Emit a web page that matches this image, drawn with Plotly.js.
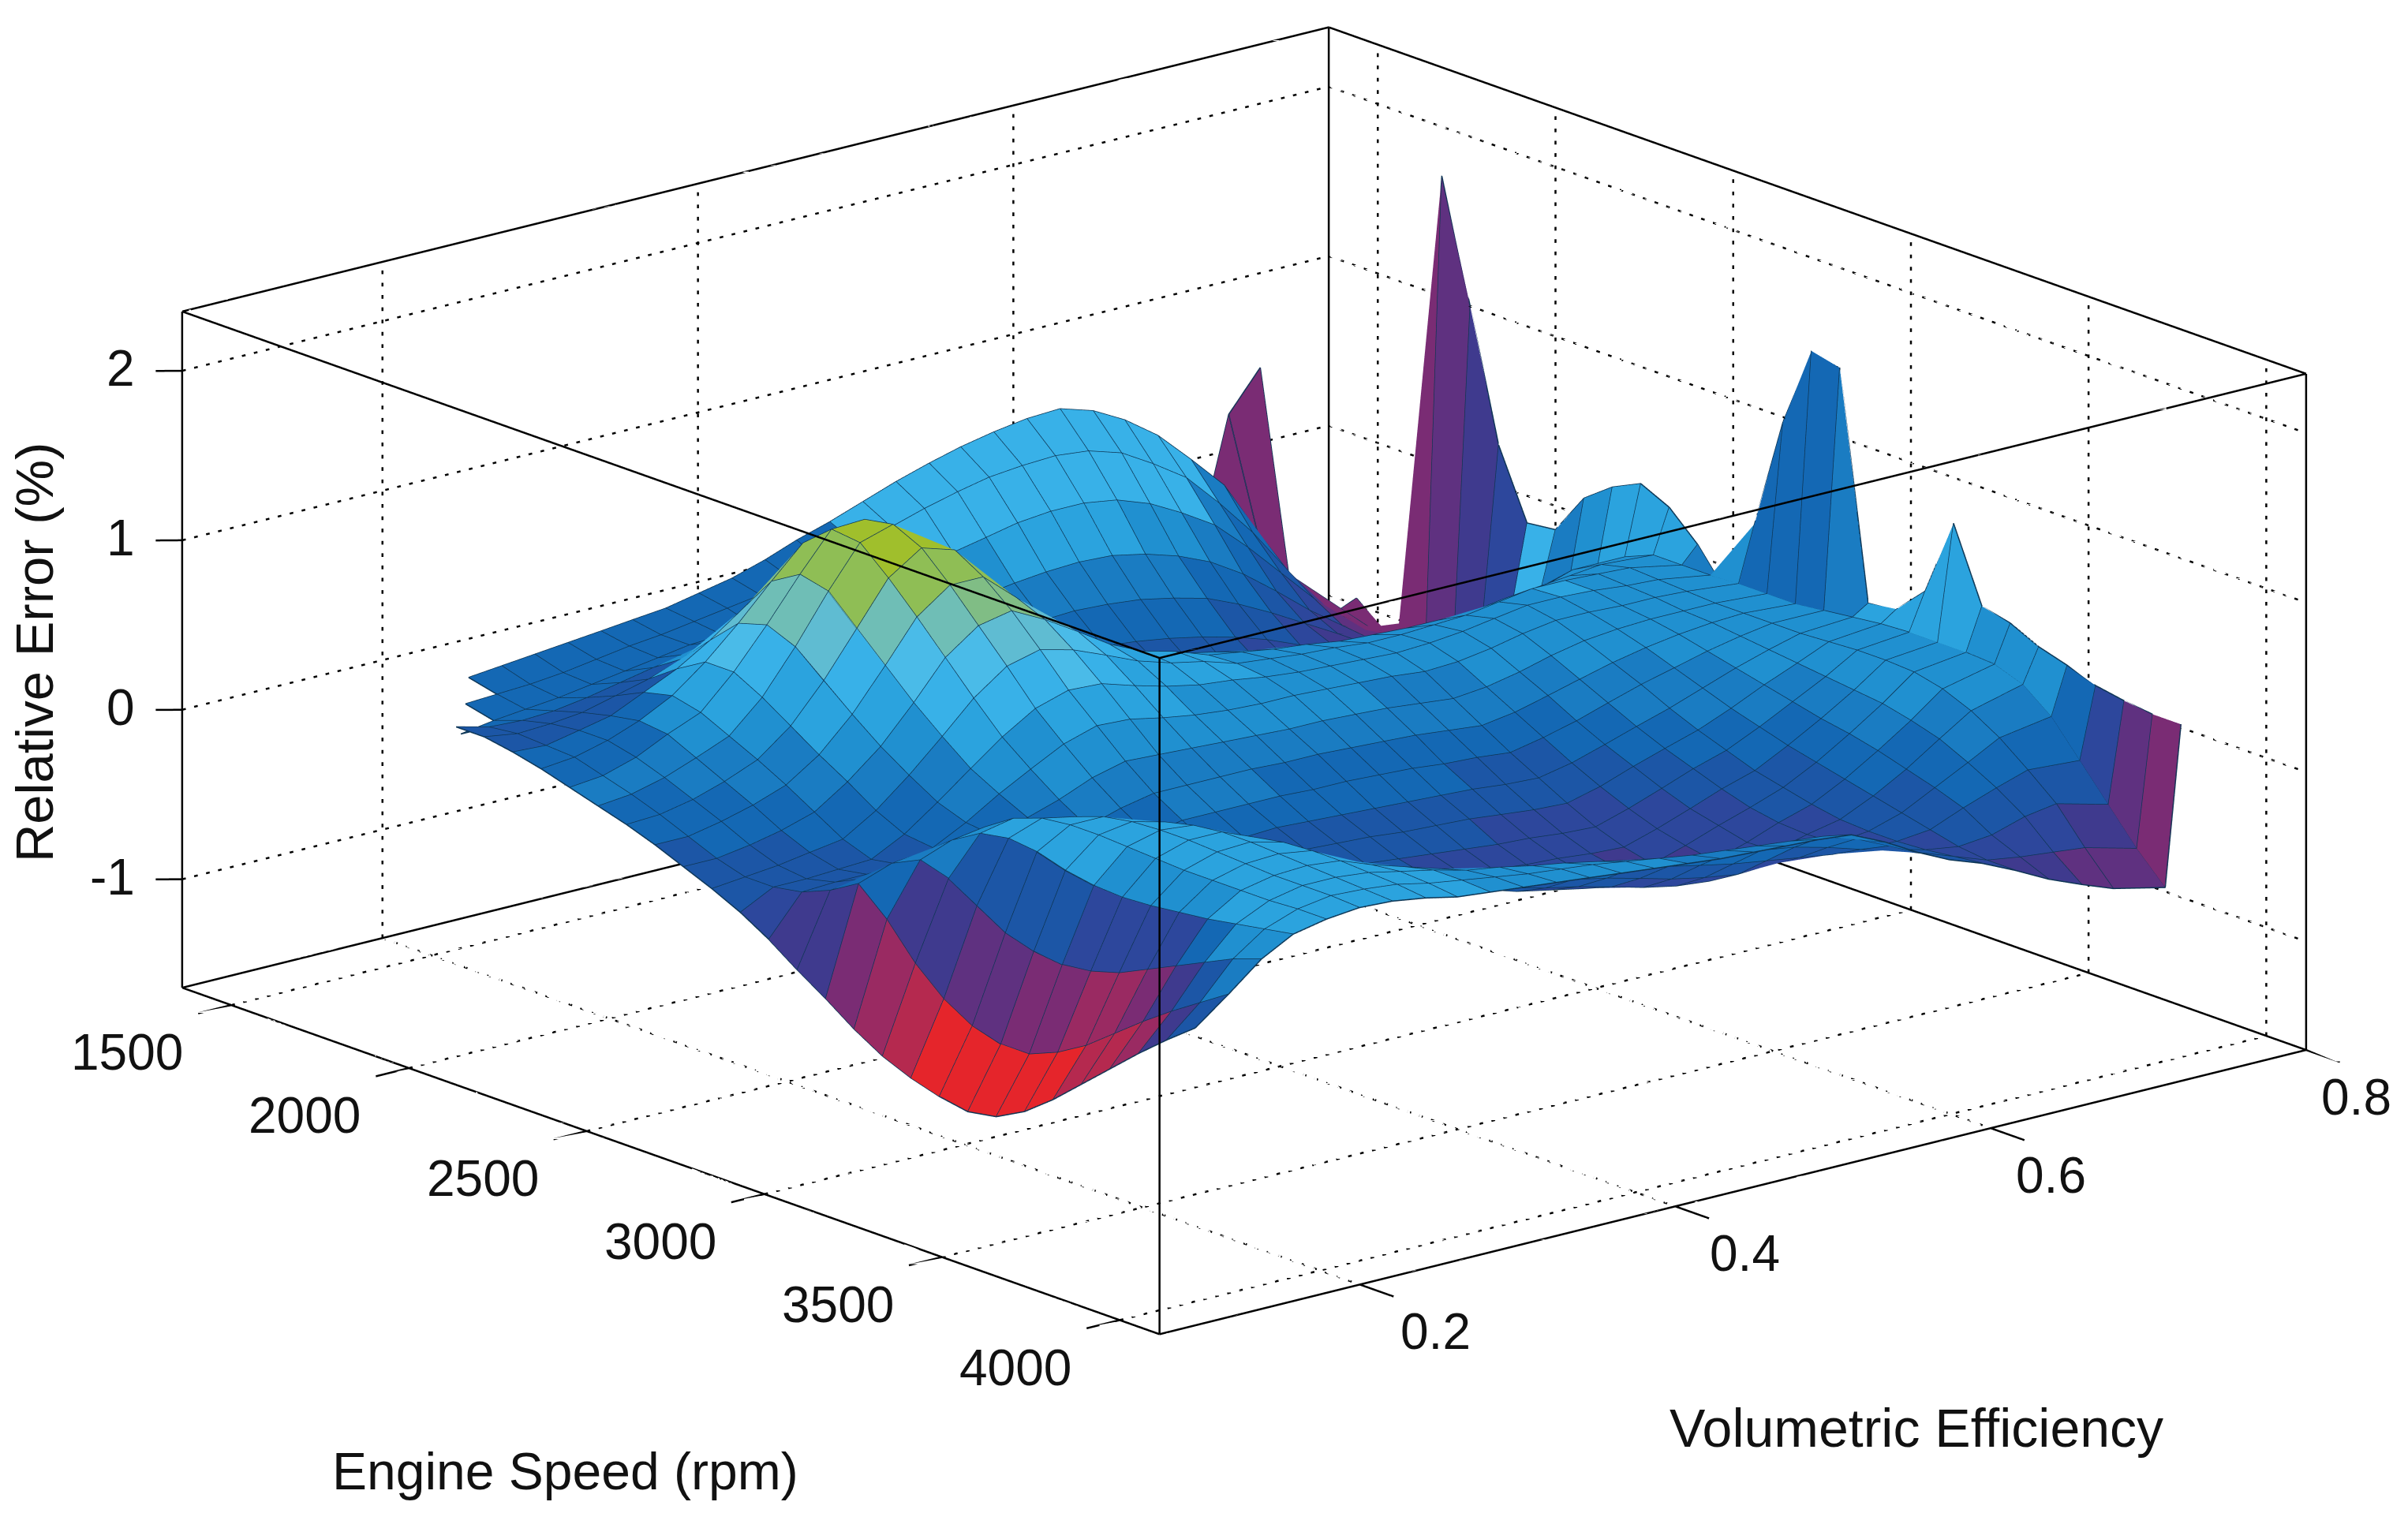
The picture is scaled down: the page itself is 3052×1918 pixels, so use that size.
<!DOCTYPE html>
<html><head><meta charset="utf-8">
<script src="https://cdn.plot.ly/plotly-3.0.1.min.js"></script>
<style>html,body{margin:0;padding:0;background:#fff}#g{width:3052px;height:1918px}</style>
</head><body><div id="g"></div>
<script>
const speedTicks=[1500,2000,2500,3000,3500,4000];
const effTicks=[0.2,0.4,0.6,0.8];
const errTicks=[-1,0,1,2];
const speedRange=[1362,4112], effRange=[0.073,0.8], errRange=[-1.64,2.35];
const speeds=[1360,1440,1520,1600,1680,1760,1840,1920,2000,2080,2160,2240,2320,2400,2480,2560,2640,2720,2800,2880,2960,3040,3120,3200,3280,3360,3440,3520,3600,3680,3760];
const efficiencies=[0.175,0.196,0.217,0.237,0.258,0.279,0.300,0.321,0.341,0.362,0.383,0.404,0.425,0.445,0.466,0.487,0.508,0.529,0.549,0.570,0.591,0.612,0.633,0.653,0.674,0.695,0.716,0.737,0.757,0.790,0.800];
const _=null;
const relativeError=[
[_,_,_,_,_,_,_,_,_,_,_,_,_,_,_,_,_,_,_,_,_,_,_,_,_,_,-.56,.21,.44,_,_],
[_,_,_,-.13,-.11,-.09,-.07,-.05,-.03,-.01,.03,.07,.13,.2,.26,.33,.4,.46,.51,.55,.58,.59,.53,.43,.29,.1,-.1,-.42,-.72,-1,-.96],
[_,_,-.18,-.17,-.16,-.14,-.11,-.08,-.06,-.03,0,.03,.07,.12,.18,.24,.3,.35,.39,.41,.42,.4,.34,.23,.1,-.1,-.32,-.58,-.85,-1.05,-1.09],
[_,-.25,-.22,-.2,-.18,-.15,-.12,-.09,-.06,-.05,-.05,-.05,-.05,-.03,0,.05,.1,.14,.18,.2,.2,.17,.1,0,-.12,-.3,-.5,-.7,-.9,-1.05,-.98],
[-.1,-.15,-.16,-.15,-.12,-.08,-.04,-.01,.02,.02,-.03,-.1,-.15,-.17,-.16,-.13,-.1,-.07,-.05,-.04,-.05,-.09,-.15,-.23,-.35,-.5,-.66,-.8,-.9,-1,1.71],
[-.1,-.13,-.12,-.1,-.05,0,.07,.14,.2,.17,.06,-.08,-.2,-.26,-.28,-.27,-.25,-.23,-.22,-.23,-.25,-.29,-.34,-.42,-.52,-.63,-.74,-.82,-.85,-.9,1],
[-.13,-.14,-.1,-.06,.03,.12,.24,.38,.5,.46,.25,.02,-.18,-.28,-.33,-.35,-.35,-.36,-.37,-.39,-.42,-.46,-.51,-.57,-.65,-.7,-.74,-.75,-.72,-.75,.24],
[-.17,-.15,-.1,-.03,.07,.22,.4,.6,.78,.75,.45,.15,-.1,-.24,-.32,-.36,-.38,-.42,-.46,-.5,-.55,-.59,-.63,-.67,-.72,-.72,-.68,-.72,-.7,-.65,-.16],
[-.22,-.2,-.14,-.05,.03,.22,.45,.7,.92,.93,.62,.28,0,-.16,-.26,-.32,-.35,-.4,-.46,-.52,-.58,-.62,-.66,-.7,-.72,-.68,-.7,-.65,-.55,-.5,-.14],
[-.27,-.25,-.2,-.13,-.05,.13,.38,.66,.9,.96,.78,.45,.15,-.03,-.14,-.2,-.25,-.31,-.38,-.44,-.5,-.55,-.6,-.62,-.62,-.55,-.6,-.5,-.4,-.4,.105],
[-.32,-.31,-.27,-.21,-.13,.02,.24,.5,.75,.88,.82,.55,.28,.1,-.02,-.08,-.12,-.18,-.24,-.3,-.35,-.39,-.44,-.47,-.45,-.38,-.45,-.35,-.25,-.25,.23],
[-.38,-.38,-.34,-.29,-.22,-.09,.1,.34,.58,.72,.72,.55,.36,.2,.08,.03,-.02,-.06,-.1,-.14,-.18,-.21,-.24,-.26,-.25,-.25,-.22,-.16,-.1,-.1,.31],
[-.45,-.45,-.42,-.38,-.32,-.19,-.03,.18,.4,.54,.58,.48,.36,.24,.15,.1,.03,0,-.03,-.05,-.08,-.09,-.1,-.1,-.1,-.07,-.05,-.03,-.01,-.03,.23],
[-.52,-.5,-.48,-.45,-.42,-.3,-.14,.04,.22,.36,.41,.36,.28,.2,.14,.1,.04,.02,0,-.01,-.03,-.03,-.02,-.01,.02,.05,.05,.04,.03,-.03,.07],
[-.6,-.5,-.5,-.49,-.48,-.38,-.24,-.09,.05,.17,.23,.22,.16,.11,.07,.05,.02,0,-.01,-.02,-.03,-.02,0,.03,.06,.06,.05,.03,.02,-.03,-.15],
[-.7,-.47,-.46,-.46,-.45,-.4,-.3,-.18,-.08,.02,.08,.07,.03,0,-.02,-.03,-.03,-.04,-.05,-.06,-.08,-.07,-.04,0,.03,.03,.02,.02,.01,-.02,.31],
[-.82,-.4,-.38,-.37,-.35,-.35,-.32,-.26,-.2,-.12,-.07,-.08,-.09,-.1,-.11,-.12,-.12,-.13,-.14,-.16,-.18,-.16,-.12,-.07,-.03,-.01,0,0,0,-.02,.97],
[-.93,-.3,-.23,-.21,-.2,-.24,-.28,-.3,-.3,-.24,-.2,-.2,-.2,-.2,-.21,-.21,-.22,-.23,-.24,-.26,-.28,-.25,-.2,-.15,-.1,-.06,-.03,-.01,0,-.02,1.45],
[-1.05,-.45,-.15,-.08,-.05,-.12,-.22,-.32,-.38,-.34,-.3,-.3,-.3,-.3,-.31,-.31,-.32,-.33,-.35,-.36,-.38,-.34,-.29,-.23,-.17,-.12,-.07,-.03,0,0,1.41],
[-1.15,-.65,-.2,.02,.06,-.02,-.16,-.3,-.42,-.42,-.39,-.39,-.38,-.39,-.4,-.41,-.42,-.43,-.44,-.46,-.47,-.43,-.37,-.31,-.25,-.18,-.11,-.05,0,.02,.08],
[-1.22,-.8,-.3,.05,.12,.08,-.06,-.24,-.4,-.45,-.46,-.46,-.45,-.46,-.47,-.49,-.5,-.51,-.53,-.55,-.56,-.51,-.44,-.38,-.32,-.24,-.15,-.07,.01,.04,.105],
[-1.27,-.9,-.4,.03,.14,.14,.04,-.14,-.35,-.46,-.5,-.51,-.5,-.52,-.54,-.56,-.58,-.6,-.61,-.63,-.64,-.58,-.51,-.44,-.38,-.29,-.19,-.09,.02,.05,.27],
[-1.3,-.95,-.45,-.02,.14,.17,.12,-.04,-.27,-.42,-.5,-.52,-.52,-.55,-.58,-.61,-.64,-.66,-.67,-.69,-.7,-.64,-.57,-.5,-.44,-.34,-.23,-.11,.02,.05,.73],
[-1.27,-.95,-.47,-.05,.13,.18,.16,.05,-.18,-.35,-.45,-.49,-.5,-.54,-.58,-.62,-.66,-.68,-.7,-.72,-.74,-.68,-.61,-.55,-.48,-.38,-.26,-.13,.01,.05,.3],
[-1.18,-.88,-.45,-.06,.12,.18,.18,.1,-.08,-.25,-.36,-.41,-.44,-.49,-.54,-.6,-.64,-.68,-.71,-.74,-.76,-.71,-.65,-.58,-.52,-.42,-.3,-.17,-.03,.04,.26],
[-1.05,-.78,-.4,-.05,.11,.17,.18,.13,0,-.13,-.24,-.3,-.35,-.41,-.47,-.52,-.56,-.61,-.66,-.7,-.72,-.69,-.64,-.59,-.55,-.46,-.35,-.22,-.1,-.02,.18],
[-.9,-.65,-.32,-.03,.11,.16,.17,.14,.04,-.05,-.13,-.19,-.25,-.31,-.36,-.41,-.45,-.5,-.55,-.59,-.62,-.61,-.6,-.58,-.56,-.5,-.4,-.3,-.2,-.15,.13],
[-.75,-.52,-.24,-.01,.11,.15,.16,.14,.07,.01,-.05,-.1,-.15,-.2,-.25,-.29,-.33,-.37,-.41,-.45,-.48,-.51,-.54,-.55,-.56,-.54,-.46,-.39,-.33,-.35,.07],
[-.6,-.4,-.16,.02,.11,.15,.15,.13,.09,.05,0,-.03,-.07,-.1,-.14,-.18,-.22,-.25,-.28,-.31,-.34,-.39,-.45,-.5,-.55,-.58,-.56,-.5,-.47,-.55,.04],
[-.46,-.29,-.08,.05,.12,.15,.14,.12,.08,.05,.02,-.01,-.03,-.05,-.08,-.11,-.14,-.16,-.18,-.2,-.22,-.28,-.37,-.46,-.53,-.6,-.63,-.65,-.67,-.75,.02],
[-.33,-.18,-.02,.08,.12,.14,.13,.1,.06,.04,.02,0,-.02,-.04,-.06,-.08,-.1,-.11,-.12,-.13,-.15,-.24,-.35,-.44,-.51,-.6,-.7,-.78,-.85,-.92,.02]
];
const levelColors=['#E5252B','#B5294F','#9A2A62','#7A2C74','#5F3180','#3F3A8E','#2D479C','#1C56A6','#1468B4','#1A7CC2','#2090D0','#2BA3DE','#38B1E8','#4ABBE8','#5FBCD2','#6FBEB6','#80BD85','#8FBE55','#A0BF2C'];
const levelTops=[-1.2,-1.1,-1.0,-.9,-.8,-.7,-.55,-.4,-.25,-.1,.05,.2,.3,.4,.48,.56,.65,.8,99];
const colorOverrides=[
[0,26,28,3],[1,29,29,3],[2,29,29,3],[3,29,29,3],[4,29,29,4],[5,29,29,5],[6,29,29,6],[7,29,29,12],[8,29,29,9],[9,29,29,10],[10,29,29,11],[11,29,29,11],[12,29,29,11],[13,29,29,9],[14,29,29,10],[15,29,29,8],[16,29,29,8],[17,29,29,8],[18,29,29,9],[19,29,29,11],[20,29,29,11],[21,29,29,11],[22,29,29,11],[23,29,29,10],[24,29,29,10],
[25,29,29,10],[26,29,29,8],[27,29,29,6],[28,29,29,4],[29,29,29,3],
[27,28,28,7],[28,28,28,5],[29,28,28,4],[28,27,27,6],[29,27,27,4],[29,26,26,5],[29,25,25,5],
[15,0,0,5],[16,0,0,5],[17,0,0,3],[18,0,0,2],[19,0,0,1],[20,0,0,0],[21,0,0,0],[22,0,0,0],[23,0,0,0],[24,0,0,0],[25,0,0,1],[26,0,0,1],[27,0,0,2],[28,0,0,5],[29,0,0,7],
[18,1,1,5],[19,1,1,5],[20,1,1,4],[21,1,1,4],[22,1,1,3],[23,1,1,3],[24,1,1,2],[25,1,1,2],[26,1,1,3],[27,1,1,5],[28,1,1,7],
[19,2,2,7],[20,2,2,7],[21,2,2,7],[22,2,2,7],[23,2,2,6],[24,2,2,6],[25,2,2,6],[26,2,2,6],[27,2,2,8],
[1,14,24,12],[2,15,23,12],
[1,3,13,8],[2,2,12,8],[3,1,10,8],[4,0,5,7],[5,0,4,7],[6,0,3,8],[7,0,2,8]
];
const nR=speeds.length,nC=efficiencies.length;
const X=[],Y=[],Z=[],I=[],J=[],K=[],FC=[];
const id=(r,c)=>r*nC+c;
for(let r=0;r<nR;r++)for(let c=0;c<nC;c++){X.push(speeds[r]);Y.push(efficiencies[c]);const v=relativeError[r][c];Z.push(v===null?errRange[0]:v);}
const ov={};colorOverrides.forEach(o=>{for(let c=o[1];c<=o[2];c++)ov[o[0]+'_'+c]=o[3];});
function lvl(v){for(let i=0;i<levelTops.length;i++)if(v<levelTops[i])return i;return levelTops.length-1;}
for(let r=0;r<nR-1;r++)for(let c=0;c<nC-1;c++){
  const q=[[r,c],[r,c+1],[r+1,c+1],[r+1,c]];
  const ok=q.map(p=>relativeError[p[0]][p[1]]!==null);
  const vals=q.filter((p,i)=>ok[i]).map(p=>relativeError[p[0]][p[1]]);
  if(vals.length<(r===0?4:3))continue;
  const m=vals.reduce((a,b)=>a+b,0)/vals.length;
  const k=ov[r+'_'+c];
  const col=levelColors[k===undefined?lvl(m):k];
  const tri=[[0,1,2],[0,2,3]];
  tri.forEach(t=>{if(t.every(i=>ok[i])){I.push(id(...q[t[0]]));J.push(id(...q[t[1]]));K.push(id(...q[t[2]]));FC.push(col);}});
}
const mx=[],my=[],mz=[];
function addPt(r,c){const v=relativeError[r][c];if(v===null){mx.push(null);my.push(null);mz.push(null);}else{mx.push(speeds[r]);my.push(efficiencies[c]);mz.push(v);}}
for(let r=0;r<nR;r++){for(let c=0;c<nC;c++)addPt(r,c);mx.push(null);my.push(null);mz.push(null);}
for(let c=0;c<nC;c++){for(let r=0;r<nR;r++)addPt(r,c);mx.push(null);my.push(null);mz.push(null);}
const [x0,x1]=speedRange,[y0,y1]=effRange,[z0,z1]=errRange;
const gx=[],gy=[],gz=[];
function dotted(a,b,n){for(let i=0;i<n;i++){const f=i/n,g=(i+0.3)/n;
  gx.push(a[0]+(b[0]-a[0])*f,a[0]+(b[0]-a[0])*g,null);gy.push(a[1]+(b[1]-a[1])*f,a[1]+(b[1]-a[1])*g,null);gz.push(a[2]+(b[2]-a[2])*f,a[2]+(b[2]-a[2])*g,null);}}
speedTicks.forEach(v=>{dotted([v,y0,z0],[v,y1,z0],96);dotted([v,y1,z0],[v,y1,z1],55);});
effTicks.forEach(v=>{dotted([x0,v,z0],[x1,v,z0],84);dotted([x0,v,z0],[x0,v,z1],55);});
errTicks.forEach(v=>{dotted([x0,y0,v],[x0,y1,v],96);dotted([x0,y1,v],[x1,y1,v],84);});
const edges=[];
[z0,z1].forEach(z=>{edges.push([[x0,y0,z],[x1,y0,z]],[[x1,y0,z],[x1,y1,z]],[[x1,y1,z],[x0,y1,z]],[[x0,y1,z],[x0,y0,z]]);});
[[x0,y0],[x1,y0],[x1,y1],[x0,y1]].forEach(p=>edges.push([[p[0],p[1],z0],[p[0],p[1],z1]]));
const tickEdges=[];
speedTicks.forEach(v=>tickEdges.push([[v,y0,z0],[v,0.052,z0]]));
effTicks.forEach(v=>tickEdges.push([[x1,v,z0],[x1+95,v,z0]]));
errTicks.forEach(v=>tickEdges.push([[x0,y0,v],[x0-30,y0-0.01,v]]));
const FONT='"Liberation Sans",Arial,sans-serif';
const TS=64,TC='#111';
function ax(range){return {range:range,autorange:false,showticklabels:false,ticks:'',showgrid:false,zeroline:false,showline:false,showbackground:false,showspikes:false,title:{text:''}};}
const tickNotes=[];
speedTicks.forEach(v=>tickNotes.push({x:v,y:y0,z:z0,text:String(v),showarrow:false,font:{family:FONT,size:TS,color:TC},xanchor:'center',yanchor:'middle',xshift:-132,yshift:-60}));
const effNudge=[12,4,-8,-20];
effTicks.forEach((v,n)=>tickNotes.push({x:x1,y:v,z:z0,text:String(v),showarrow:false,font:{family:FONT,size:TS,color:TC},xanchor:'center',yanchor:'middle',xshift:84+effNudge[n],yshift:-60}));
errTicks.forEach(v=>tickNotes.push({x:x0,y:y0,z:v,text:String(v),showarrow:false,font:{family:FONT,size:TS,color:TC},xanchor:'right',yanchor:'middle',xshift:-58,yshift:3}));
const data=[
{type:'mesh3d',x:X,y:Y,z:Z,i:I,j:J,k:K,facecolor:FC,flatshading:true,lighting:{ambient:1,diffuse:0,specular:0,fresnel:0,roughness:1},hoverinfo:'skip',showscale:false},
{type:'scatter3d',mode:'lines',x:mx,y:my,z:mz,line:{color:'#0d3554',width:3},hoverinfo:'skip',showlegend:false},
{type:'scatter3d',mode:'lines',x:gx,y:gy,z:gz,line:{color:'#000',width:5},hoverinfo:'skip',showlegend:false}
];
const lineOf=(xs,ys,zs)=>({type:'scatter3d',mode:'lines',x:xs,y:ys,z:zs,line:{color:'#000',width:5},hoverinfo:'skip',showlegend:false});
tickEdges.forEach(e=>data.push(lineOf([e[0][0],e[1][0]],[e[0][1],e[1][1]],[e[0][2],e[1][2]])));
// box edges: the line renderer leaves gaps along a long line, so each edge is laid down with several different subdivisions
edges.forEach(e=>{data.push(lineOf([e[0][0],e[1][0]],[e[0][1],e[1][1]],[e[0][2],e[1][2]]));
  [23,29,37,41].forEach(n=>{const ex=[],ey=[],ez=[];for(let i=0;i<=n;i++){const f=i/n;
    ex.push(e[0][0]+(e[1][0]-e[0][0])*f);ey.push(e[0][1]+(e[1][1]-e[0][1])*f);ez.push(e[0][2]+(e[1][2]-e[0][2])*f);}
    data.push(lineOf(ex,ey,ez));});});
const layout={width:3052,height:1918,paper_bgcolor:'#fff',margin:{l:0,r:0,t:0,b:0},showlegend:false,
scene:{domain:{x:[0.0282,1],y:[0.0886,1]},aspectmode:'manual',aspectratio:{x:2.313,y:2.236,z:1.027},
 camera:{projection:{type:'orthographic'},up:{x:0,y:0,z:1},center:{x:0,y:0,z:0},eye:{x:3.663,y:-3.063,z:1.4825}},
 xaxis:ax([1331,4210]),yaxis:ax([0.05,0.8]),zaxis:ax(errRange),bgcolor:'#fff',annotations:tickNotes},
annotations:[
{xref:'paper',yref:'paper',x:368*1.9464/3052,y:1-958*1.9464/1918,text:'Engine Speed (rpm)',showarrow:false,font:{family:FONT,size:66,color:TC},xanchor:'center',yanchor:'middle'},
{xref:'paper',yref:'paper',x:1248*1.9464/3052,y:1-930*1.9464/1918,text:'Volumetric Efficiency',showarrow:false,font:{family:FONT,size:68,color:TC},xanchor:'center',yanchor:'middle'},
{xref:'paper',yref:'paper',x:22*1.9464/3052,y:1-425*1.9464/1918,text:'Relative Error (%)',textangle:-90,showarrow:false,font:{family:FONT,size:67,color:TC},xanchor:'center',yanchor:'middle'}
]};
Plotly.newPlot('g',data,layout,{displayModeBar:false});
</script></body></html>
